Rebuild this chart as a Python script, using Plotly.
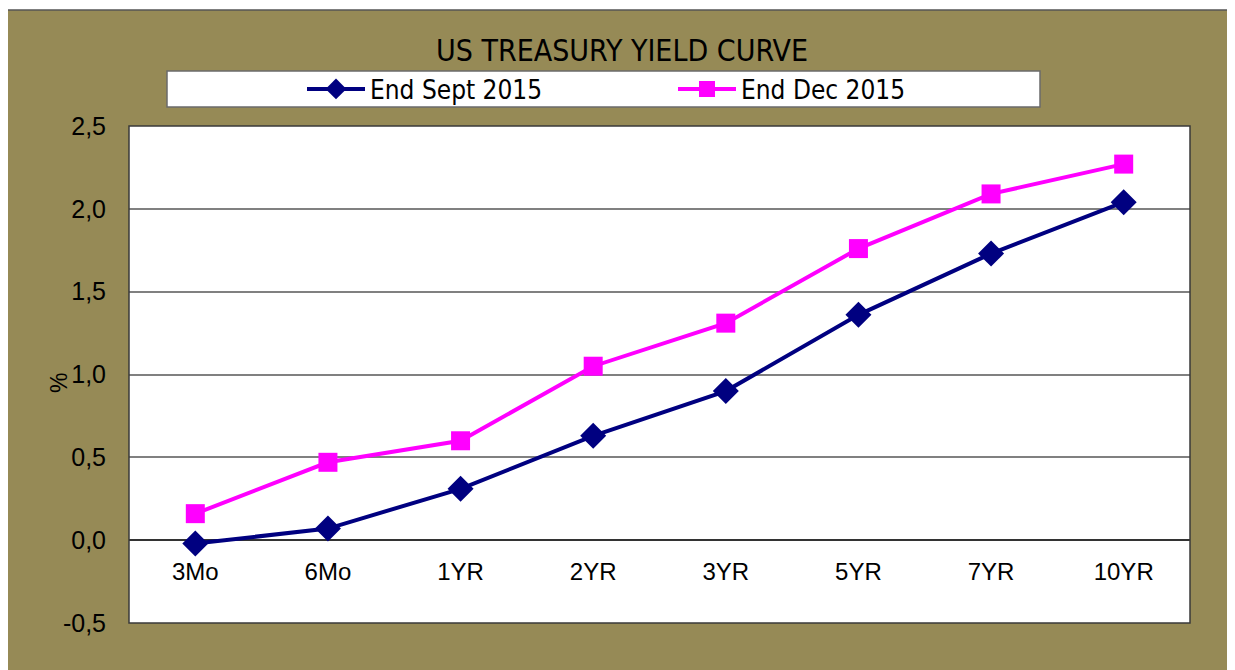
import plotly.graph_objects as go

categories = ["3Mo", "6Mo", "1YR", "2YR", "3YR", "5YR", "7YR", "10YR"]
sept_2015 = [-0.02, 0.07, 0.31, 0.63, 0.90, 1.36, 1.73, 2.04]
dec_2015 = [0.16, 0.47, 0.60, 1.05, 1.31, 1.76, 2.09, 2.27]
y_ticks = [-0.5, 0.0, 0.5, 1.0, 1.5, 2.0, 2.5]
y_ticktext = [f"{v:.1f}".replace(".", ",") for v in y_ticks]

# page body has an 8px margin; work in screen coordinates and convert
OFF = 8
W, H = 1235 - OFF, 670 - OFF
ML, MR, MT, MB = 129 - OFF, 1235 - 1190, 126 - OFF, 670 - 623
PW, PH = W - ML - MR, H - MT - MB


def px(sx):
    return (sx - OFF - ML) / PW


def py(sy):
    return (H - MB - (sy - OFF)) / PH


OLIVE = "#968A56"
NARROW = "Liberation Sans Narrow, Arial Narrow, DejaVu Sans Condensed, sans-serif"
REG = "Liberation Sans, Arial, sans-serif"

fig = go.Figure()
fig.add_trace(go.Scatter(
    x=categories, y=sept_2015, name="End Sept 2015", mode="lines+markers",
    line=dict(color="#000080", width=4),
    marker=dict(symbol="diamond", size=20, color="#000080"),
))
fig.add_trace(go.Scatter(
    x=categories, y=dec_2015, name="End Dec 2015", mode="lines+markers",
    line=dict(color="#FF00FF", width=4),
    marker=dict(symbol="square", size=19, color="#FF00FF"),
))

shapes = [
    # white strip above the olive frame
    dict(type="rect", xref="paper", yref="paper", x0=px(0), x1=px(1240), y0=py(10), y1=py(0),
         fillcolor="white", line=dict(width=0), layer="below"),
    dict(type="rect", xref="paper", yref="paper", x0=px(7), x1=px(1233), y0=py(680), y1=py(10),
         fillcolor="rgba(0,0,0,0)", line=dict(color="#555555", width=1.5), layer="below"),
    # legend box
    dict(type="rect", xref="paper", yref="paper", x0=px(167), x1=px(1040), y0=py(107), y1=py(71),
         fillcolor="white", line=dict(color="#6b6b6b", width=1.5), layer="below"),
    # plot border
    dict(type="rect", xref="paper", yref="paper", x0=0, x1=1, y0=0, y1=1,
         fillcolor="rgba(0,0,0,0)", line=dict(color="#3a3a3a", width=1.5), layer="above"),
]

fig.update_layout(
    width=W, height=H,
    margin=dict(l=ML, r=MR, t=MT, b=MB),
    paper_bgcolor=OLIVE,
    plot_bgcolor="white",
    title=dict(text="US TREASURY YIELD CURVE", x=(622 - OFF) / W, xref="container", xanchor="center",
               y=1 - (50 - OFF) / H, yanchor="middle",
               font=dict(family=NARROW, size=30, color="black")),
    legend=dict(orientation="h", x=px(302), xanchor="left", y=py(89), yanchor="middle",
                bgcolor="rgba(0,0,0,0)", borderwidth=0,
                entrywidth=298, entrywidthmode="pixels", itemwidth=58,
                font=dict(family=NARROW, size=26, color="black")),
    showlegend=True,
    shapes=shapes,
    annotations=[dict(text="%", xref="paper", yref="paper", x=px(59), y=py(383),
                      xanchor="center", yanchor="middle", textangle=-90, showarrow=False,
                      font=dict(family=REG, size=23, color="black"))],
    xaxis=dict(
        type="category", range=[-0.5, 7.5],
        anchor="free", position=1 / 6,
        showgrid=False, showline=False, ticks="", zeroline=False,
        ticklabelstandoff=15,
        tickfont=dict(family=REG, size=24, color="black"),
    ),
    yaxis=dict(
        range=[-0.5, 2.5], tickvals=y_ticks, ticktext=y_ticktext,
        showgrid=True, gridcolor="#808080", gridwidth=1.5,
        zeroline=True, zerolinecolor="#333333", zerolinewidth=1.5,
        showline=False, ticks="",
        ticklabelstandoff=22,
        tickfont=dict(family=REG, size=25, color="black"),
    ),
)

fig.write_html("out.html")
